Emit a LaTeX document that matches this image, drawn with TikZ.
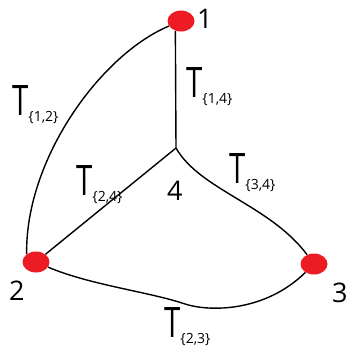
\documentclass[tikz,border=0pt]{standalone}
\usepackage{fontspec}
\setmainfont{Open Sans}
\usetikzlibrary{shapes.geometric}
\definecolor{dotred}{HTML}{ED1C24}
\newcommand{\tname}[1]{\scalebox{0.7}[1]{T}\raisebox{-6pt}{\fontsize{14}{14}\selectfont\{#1\}}}
\begin{document}
\begin{tikzpicture}[x=1pt, y=-1pt,
  vertex/.style={ellipse, fill=dotred, minimum width=27pt, minimum height=21pt, inner sep=0pt},
  num/.style={anchor=base west, inner sep=0pt, font=\fontsize{27}{27}\selectfont},
  tlab/.style={anchor=base west, inner sep=0pt, font=\fontsize{42}{42}\selectfont},
  wire/.style={line width=1.4pt}]
\useasboundingbox (0,0) rectangle (350,351);
\node[vertex] (v1) at (181,21) {};
\node[vertex] (v2) at (36,262) {};
\node[vertex] (v3) at (314,264) {};
\coordinate (v4) at (176,148);
\draw[wire] (v1) .. controls (100,55) and (25,160) .. (v2.140);
\draw[wire] (v1.240) -- (v4);
\draw[wire] (v4) -- (v2);
\draw[wire] (v4) .. controls (200,190) and (270,205) .. (v3);
\draw[wire] (v2) .. controls (90,285) and (150,292) .. (185,304)
  .. controls (210,312) and (265,312) .. (v3);
\node[num] (n1) at (197,28) {1};
\node[num] (n2) at (9,300) {2};
\node[num] (n3) at (332,302) {3};
\node[num] (n4) at (167,200) {4};
\node[tlab] (t12) at (12,115) {\tname{1,2}};
\node[tlab] (t14) at (186,97) {\tname{1,4}};
\node[tlab] (t24) at (76,195) {\tname{2,4}};
\node[tlab] (t34) at (229,183) {\tname{3,4}};
\node[tlab] (t23) at (164,337) {\tname{2,3}};
\end{tikzpicture}
\end{document}
